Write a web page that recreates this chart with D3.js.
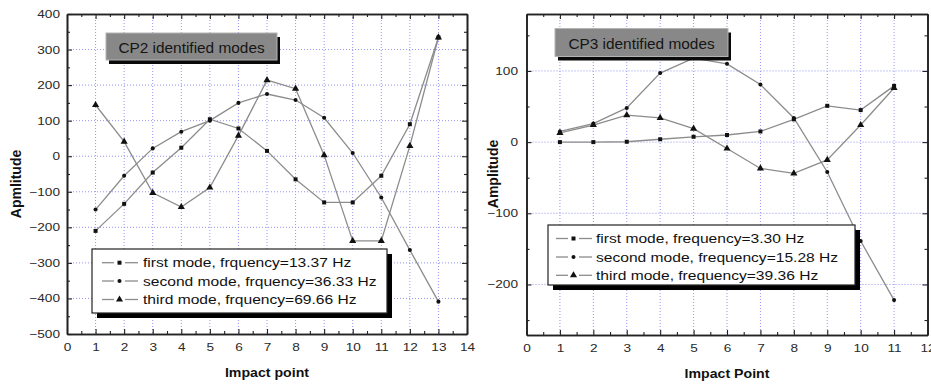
<!DOCTYPE html>
<html><head><meta charset="utf-8">
<script src="https://cdn.jsdelivr.net/npm/d3@7"></script>
<style>body{margin:0;background:#fff}svg{display:block}</style>
</head><body>
<svg id="chart" width="931" height="384"></svg>
<script>
// ---- data: CP2 ----
const cp2Points = [1,2,3,4,5,6,7,8,9,10,11,12,13];
const cp2First  = [-210,-134,-46,24,104,78,15,-65,-130,-130,-55,90,334];
const cp2Second = [-150,-55,22,69,100,150,175,158,108,9,-116,-264,-409];
const cp2Third  = [144,41,-103,-143,-88,58,214,190,3,-238,-238,29,334];
const cp2Legend = ["first mode, frquency=13.37 Hz","second mode, frquency=36.33 Hz","third mode, frquency=69.66 Hz"];
const cp2XTicks = [0,1,2,3,4,5,6,7,8,9,10,11,12,13,14];
const cp2YTicks = [-500,-400,-300,-200,-100,0,100,200,300,400];
// ---- data: CP3 ----
const cp3Points = [1,2,3,4,5,6,7,8,9,10,11];
const cp3First  = [0,0,0.5,4,7.5,10,15,32,51,45,79];
const cp3Second = [15,26,48,97,118,110,81,34,-42,-139,-222];
const cp3Third  = [13,24,38,34,19,-9,-37,-44,-25,24,76];
const cp3Legend = ["first mode, frequency=3.30 Hz","second mode, frequency=15.28 Hz","third mode, frequency=39.36 Hz"];
const cp3XTicks = [0,1,2,3,4,5,6,7,8,9,10,11,12];
const cp3YTicks = [-200,-100,0,100];

const svg = d3.select("#chart");
const FONT = "'Liberation Sans', Arial, Helvetica, sans-serif";
const symbols = [d3.symbolSquare, d3.symbolCircle, d3.symbolTriangle];
const symSizes = [16, 13, 22];

function sText(parent, x, y, str, size, k, opts) {
  opts = opts || {};
  const g = parent.append("g").attr("transform", `translate(${x},${y})`);
  return g.append("text").attr("transform", `scale(${k},1)`)
    .attr("font-family", FONT).attr("font-size", size)
    .attr("font-weight", opts.weight || "normal")
    .attr("text-anchor", opts.anchor || "start")
    .attr("fill", opts.fill || "#111").text(str);
}

function drawChart(cfg) {
  const g = svg.append("g");
  const x = d3.scaleLinear().domain(cfg.xDomain).range([cfg.left, cfg.right]);
  const y = d3.scaleLinear().domain(cfg.yDomain).range([cfg.bottom, cfg.top]);
  const xMinor = d3.range(cfg.xDomain[0] + 0.5, cfg.xDomain[1], 1);
  const yMinor = cfg.yMinor;

  // grid
  const grid = g.append("g").attr("stroke", "#7c7cf0").attr("stroke-width", 1)
    .attr("stroke-dasharray", "1,2").attr("opacity", 0.8);
  grid.selectAll(".vg").data(cfg.xTicks.filter(d => d > cfg.xDomain[0] && d < cfg.xDomain[1]))
    .join("line").attr("x1", d => x(d)).attr("x2", d => x(d)).attr("y1", cfg.top).attr("y2", cfg.bottom);
  grid.selectAll(".hg").data(cfg.yTicks.filter(d => y(d) > cfg.top + 1 && y(d) < cfg.bottom - 1))
    .join("line").attr("y1", d => y(d)).attr("y2", d => y(d)).attr("x1", cfg.left).attr("x2", cfg.right);

  // axes
  const K = 1.24;
  const ax = (gen, tr) => {
    const a = g.append("g").attr("transform", tr).call(gen);
    a.select(".domain").attr("stroke", "#222").attr("stroke-width", 1.6);
    a.selectAll(".tick line").attr("stroke", "#222").attr("stroke-width", 1.1);
    a.selectAll("text").attr("font-family", FONT).attr("font-size", 11).attr("fill", "#2a2a2a");
    return a;
  };
  const bot = ax(d3.axisBottom(x).tickValues(cfg.xTicks).tickSize(-5).tickSizeOuter(0).tickPadding(9).tickFormat(d3.format("d")), `translate(0,${cfg.bottom})`);
  bot.selectAll("text").attr("transform", `scale(${K},1)`);
  ax(d3.axisBottom(x).tickValues(xMinor).tickSize(-3).tickSizeOuter(0).tickFormat(""), `translate(0,${cfg.bottom})`);
  ax(d3.axisTop(x).tickValues(cfg.xTicks).tickSize(-5).tickSizeOuter(0).tickFormat(""), `translate(0,${cfg.top})`);
  ax(d3.axisTop(x).tickValues(xMinor).tickSize(-3).tickSizeOuter(0).tickFormat(""), `translate(0,${cfg.top})`);
  const lft = ax(d3.axisLeft(y).tickValues(cfg.yTicks).tickSize(-5).tickSizeOuter(0).tickPadding(cfg.yPad).tickFormat(d3.format("d")), `translate(${cfg.left},0)`);
  lft.selectAll("text").each(function(){ const t = d3.select(this); t.attr("x", (+t.attr("x"))/K).attr("transform", `scale(${K},1)`); });
  ax(d3.axisLeft(y).tickValues(yMinor).tickSize(-3).tickSizeOuter(0).tickFormat(""), `translate(${cfg.left},0)`);
  ax(d3.axisRight(y).tickValues(cfg.yTicks).tickSize(-5).tickSizeOuter(0).tickFormat(""), `translate(${cfg.right},0)`);
  ax(d3.axisRight(y).tickValues(yMinor).tickSize(-3).tickSizeOuter(0).tickFormat(""), `translate(${cfg.right},0)`);

  // series
  const line = d3.line().x((d, i) => x(cfg.points[i])).y(d => y(d));
  cfg.series.forEach((s, si) => {
    g.append("path").attr("d", line(s)).attr("fill", "none").attr("stroke", "#8c8c8c").attr("stroke-width", 1.3);
  });
  cfg.series.forEach((s, si) => {
    g.append("g").selectAll("path").data(s).join("path")
      .attr("transform", (d, i) => `translate(${x(cfg.points[i])},${y(d)})`)
      .attr("d", d3.symbol().type(symbols[si]).size(symSizes[si])).attr("fill", "#111");
  });

  // title box
  const tb = cfg.titleBox;
  g.append("rect").attr("x", tb.x + 3).attr("y", tb.y + 4).attr("width", tb.w).attr("height", tb.h).attr("fill", "#0a0a0a");
  g.append("rect").attr("x", tb.x).attr("y", tb.y).attr("width", tb.w).attr("height", tb.h).attr("fill", "#888888")
    .attr("stroke", "#b4b4b4").attr("stroke-width", 1);
  sText(g, tb.x + tb.w / 2, tb.baseline, cfg.title, 14, 1.1, {anchor: "middle", fill: "#151515"});

  // legend
  const lg = cfg.legend;
  g.append("rect").attr("x", lg.x + 5).attr("y", lg.y + 5).attr("width", lg.w).attr("height", lg.h).attr("fill", "#000");
  g.append("rect").attr("x", lg.x).attr("y", lg.y).attr("width", lg.w).attr("height", lg.h).attr("fill", "#fff")
    .attr("stroke", "#222").attr("stroke-width", 1.2);
  cfg.legendLabels.forEach((lab, i) => {
    const cy = lg.rows[i];
    g.append("line").attr("x1", lg.sx).attr("x2", lg.sx + 12).attr("y1", cy).attr("y2", cy).attr("stroke", "#8c8c8c").attr("stroke-width", 1.3);
    g.append("line").attr("x1", lg.sx + 23).attr("x2", lg.sx + 36).attr("y1", cy).attr("y2", cy).attr("stroke", "#8c8c8c").attr("stroke-width", 1.3);
    g.append("path").attr("transform", `translate(${lg.sx + 17.5},${cy})`).attr("d", d3.symbol().type(symbols[i]).size(symSizes[i])).attr("fill", "#111");
    sText(g, lg.tx, cy + 4.6, lab, 13, 1.2);
  });

  // axis titles
  sText(g, cfg.xTitle.x, cfg.xTitle.y, cfg.xTitle.text, 13, 1.09, {anchor: "middle", weight: "bold"});
  g.append("text").attr("transform", `translate(${cfg.yTitle.x},${cfg.yTitle.y}) rotate(-90)`)
    .attr("font-family", FONT).attr("font-size", 14).attr("font-weight", "bold").attr("text-anchor", "middle")
    .attr("fill", "#111").text(cfg.yTitle.text);
}

drawChart({
  left: 67, right: 467, top: 14, bottom: 334,
  xDomain: [0, 14], yDomain: [-500, 400],
  xTicks: cp2XTicks, yTicks: cp2YTicks, yMinor: d3.range(-450, 400, 100), yPad: 7,
  points: cp2Points, series: [cp2First, cp2Second, cp2Third],
  title: "CP2 identified modes",
  titleBox: {x: 106, y: 33, w: 171, h: 27, baseline: 53},
  legend: {x: 92, y: 249, w: 295, h: 64, rows: [262.7, 281, 299.5], sx: 102, tx: 143},
  legendLabels: cp2Legend,
  xTitle: {x: 267, y: 377, text: "Impact point"},
  yTitle: {x: 21, y: 184, text: "Apmlitude"}
});

drawChart({
  left: 526.5, right: 927.5, top: 14, bottom: 335,
  xDomain: [0, 12], yDomain: [-271, 180],
  xTicks: cp3XTicks, yTicks: cp3YTicks, yMinor: [-250, -150, -50, 50, 150], yPad: 8.5,
  points: cp3Points, series: [cp3First, cp3Second, cp3Third],
  title: "CP3 identified modes",
  titleBox: {x: 555, y: 28.5, w: 173, h: 28, baseline: 48.5},
  legend: {x: 548, y: 225, w: 307, h: 60, rows: [238.5, 257, 275.3], sx: 556, tx: 596},
  legendLabels: cp3Legend,
  xTitle: {x: 727, y: 378, text: "Impact Point"},
  yTitle: {x: 498, y: 174, text: "Amplitude"}
});
</script>
</body></html>
